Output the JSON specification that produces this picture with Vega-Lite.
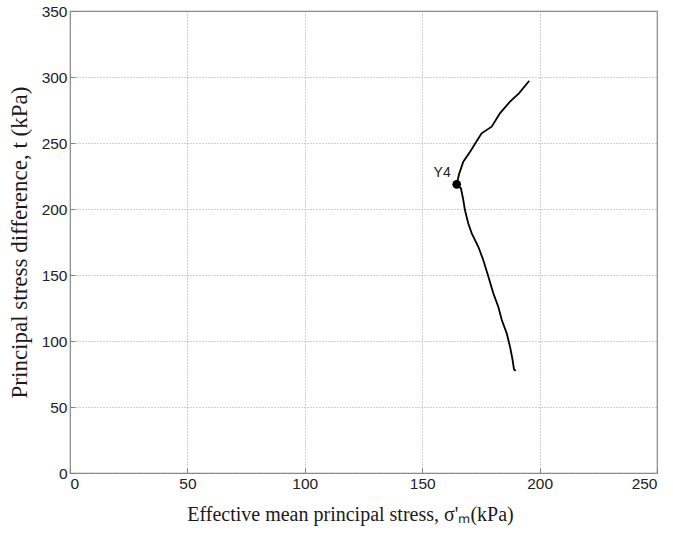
{
  "$schema": "https://vega.github.io/schema/vega-lite/v6.json",
  "autosize": {"type": "none"},
  "width": 587,
  "height": 462,
  "padding": {"left": 70, "top": 11, "right": 16, "bottom": 65},
  "background": "white",
  "config": {
    "view": {"stroke": "#808080", "strokeWidth": 1.2},
    "axis": {
      "domain": false,
      "grid": true,
      "gridColor": "#a0a0a0",
      "gridDash": [1, 2],
      "gridWidth": 1,
      "tickColor": "#808080",
      "tickSize": -5,
      "labelFont": "Liberation Sans",
      "labelFontSize": 15.5,
      "labelColor": "#222222",
      "titleFont": "Liberation Serif",
      "titleFontWeight": "normal",
      "titleColor": "#1a1a1a"
    }
  },
  "datasets": {
    "path": [
      {"i": 1, "p": 195.6, "t": 297.2},
      {"i": 2, "p": 191.2, "t": 287.6},
      {"i": 3, "p": 187.4, "t": 281.3},
      {"i": 4, "p": 183.1, "t": 272.5},
      {"i": 5, "p": 179.6, "t": 262.4},
      {"i": 6, "p": 175.3, "t": 257.3},
      {"i": 7, "p": 173.5, "t": 252.3},
      {"i": 8, "p": 170.4, "t": 243.4},
      {"i": 9, "p": 167.5, "t": 235.8},
      {"i": 10, "p": 165.8, "t": 227.0},
      {"i": 11, "p": 164.7, "t": 218.7},
      {"i": 12, "p": 166.5, "t": 215.7},
      {"i": 13, "p": 167.5, "t": 206.8},
      {"i": 14, "p": 168.2, "t": 199.2},
      {"i": 15, "p": 169.6, "t": 189.2},
      {"i": 16, "p": 171.1, "t": 181.6},
      {"i": 17, "p": 173.9, "t": 171.4},
      {"i": 18, "p": 176.0, "t": 161.4},
      {"i": 19, "p": 178.2, "t": 148.7},
      {"i": 20, "p": 180.3, "t": 136.1},
      {"i": 21, "p": 182.4, "t": 126.0},
      {"i": 22, "p": 183.9, "t": 115.9},
      {"i": 23, "p": 186.0, "t": 105.8},
      {"i": 24, "p": 187.4, "t": 95.7},
      {"i": 25, "p": 188.5, "t": 85.6},
      {"i": 26, "p": 189.1, "t": 78.5},
      {"i": 27, "p": 189.9, "t": 77.5}
    ],
    "marker": [{"p": 164.7, "t": 218.7, "label": "Y4"}]
  },
  "layer": [
    {
      "data": {"name": "path"},
      "mark": {"type": "line", "color": "black", "strokeWidth": 1.8},
      "encoding": {
        "x": {
          "field": "p", "type": "quantitative",
          "scale": {"domain": [0, 250], "nice": false},
          "axis": {"values": [0, 50, 100, 150, 200, 250], "title": "Effective mean principal stress, σ'ₘ(kPa)", "titleFontSize": 20, "labelPadding": 8, "titlePadding": 13, "titleX": 280, "titleAlign": "center"}
        },
        "y": {
          "field": "t", "type": "quantitative",
          "scale": {"domain": [0, 350], "nice": false},
          "axis": {"values": [0, 50, 100, 150, 200, 250, 300, 350], "title": "Principal stress difference, t (kPa)", "titleFontSize": 23, "labelPadding": 8, "titlePadding": 10}
        },
        "order": {"field": "i", "type": "quantitative"}
      }
    },
    {
      "data": {"name": "marker"},
      "mark": {"type": "point", "filled": true, "color": "black", "size": 75, "opacity": 1},
      "encoding": {
        "x": {"field": "p", "type": "quantitative"},
        "y": {"field": "t", "type": "quantitative"}
      }
    },
    {
      "data": {"name": "marker"},
      "mark": {"type": "text", "align": "right", "baseline": "bottom", "dx": -6, "dy": -4, "font": "Liberation Sans", "fontSize": 14, "color": "#222222"},
      "encoding": {
        "x": {"field": "p", "type": "quantitative"},
        "y": {"field": "t", "type": "quantitative"},
        "text": {"field": "label"}
      }
    }
  ]
}
